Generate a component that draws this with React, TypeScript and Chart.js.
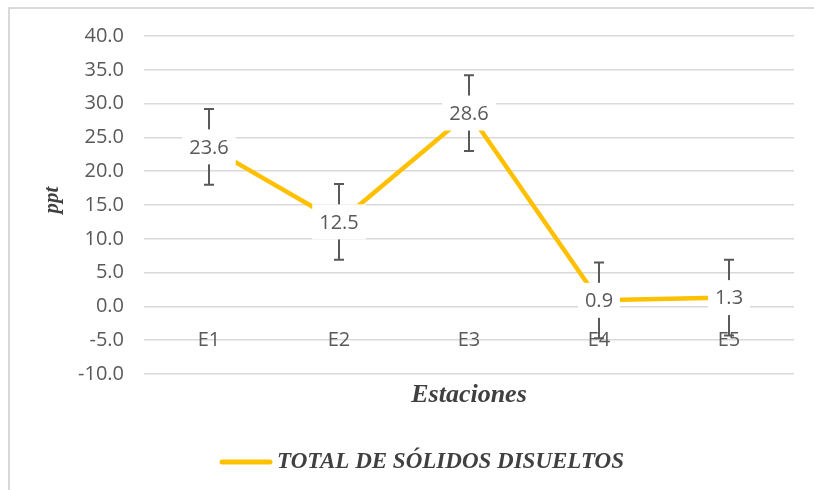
import React, { useEffect, useRef } from "react";
import { Chart, registerables } from "chart.js";

Chart.register(...registerables);

const categories = ["E1", "E2", "E3", "E4", "E5"];
const values = [23.6, 12.5, 28.6, 0.9, 1.3];
const errors = [5.6, 5.6, 5.6, 5.6, 5.6];
const seriesName = "TOTAL DE SÓLIDOS DISUELTOS";
const yTitle = "ppt";
const xTitle = "Estaciones";
const yMin = -10;
const yMax = 40;
const yStep = 5;
const categoryLabelLevel = -5;

const TEXT = "#595959";
const GRID = "#d9d9d9";
const LINE = "#FFC000";
const NUM_FONT = '20px "Open Sans"';

const decorPlugin = {
  id: "decor",
  beforeDraw(chart: any) {
    const ctx = chart.ctx;
    ctx.save();
    ctx.fillStyle = "#ffffff";
    ctx.fillRect(0, 0, chart.width, chart.height);
    ctx.strokeStyle = "#d9d9d9";
    ctx.lineWidth = 2;
    ctx.strokeRect(9, 8, chart.width + 20, chart.height + 20);
    ctx.restore();
  },
  beforeDatasetsDraw(chart: any) {
    const ctx = chart.ctx;
    const xs = chart.scales.x;
    const ys = chart.scales.y;
    ctx.save();
    // category labels
    ctx.font = NUM_FONT;
    ctx.fillStyle = TEXT;
    ctx.textAlign = "center";
    ctx.textBaseline = "middle";
    categories.forEach((c, i) => {
      ctx.fillText(c, xs.getPixelForValue(i), ys.getPixelForValue(categoryLabelLevel));
    });
    // error bars
    ctx.strokeStyle = TEXT;
    ctx.lineWidth = 2;
    values.forEach((v, i) => {
      const x = Math.round(xs.getPixelForValue(i));
      const yT = ys.getPixelForValue(v + errors[i]);
      const yB = ys.getPixelForValue(v - errors[i]);
      ctx.beginPath();
      ctx.moveTo(x, yT);
      ctx.lineTo(x, yB);
      ctx.moveTo(x - 5, yT);
      ctx.lineTo(x + 5, yT);
      ctx.moveTo(x - 5, yB);
      ctx.lineTo(x + 5, yB);
      ctx.stroke();
    });
    ctx.restore();
  },
  afterDatasetsDraw(chart: any) {
    const ctx = chart.ctx;
    const xs = chart.scales.x;
    const ys = chart.scales.y;
    ctx.save();
    ctx.font = NUM_FONT;
    ctx.textAlign = "center";
    ctx.textBaseline = "middle";
    values.forEach((v, i) => {
      const x = xs.getPixelForValue(i);
      const y = ys.getPixelForValue(v);
      const t = v.toFixed(1);
      const w = ctx.measureText(t).width + 14;
      const h = 35;
      ctx.fillStyle = "#ffffff";
      ctx.fillRect(x - w / 2, y - h / 2, w, h);
      ctx.fillStyle = TEXT;
      ctx.fillText(t, x, y + 1);
    });
    // axis titles
    ctx.fillStyle = "#404040";
    ctx.font = 'bold italic 26px "Liberation Serif"';
    ctx.fillText(xTitle, (chart.chartArea.left + chart.chartArea.right) / 2, 395);
    ctx.save();
    ctx.translate(53, 200);
    ctx.rotate(-Math.PI / 2);
    ctx.font = 'bold italic 21px "Liberation Serif"';
    ctx.fillText(yTitle, 0, 0);
    ctx.restore();
    // legend
    ctx.strokeStyle = LINE;
    ctx.lineWidth = 5;
    ctx.lineCap = "round";
    ctx.beginPath();
    ctx.moveTo(222, 462);
    ctx.lineTo(270, 462);
    ctx.stroke();
    ctx.font = 'bold italic 23px "Liberation Serif"';
    ctx.textAlign = "left";
    ctx.fillStyle = "#404040";
    ctx.fillText(seriesName, 277, 462);
    ctx.restore();
  },
};

export default function App() {
  const ref = useRef<HTMLCanvasElement>(null);
  useEffect(() => {
    const chart = new Chart(ref.current as HTMLCanvasElement, {
      type: "line",
      data: {
        labels: categories,
        datasets: [
          {
            label: seriesName,
            data: values,
            borderColor: LINE,
            backgroundColor: LINE,
            borderWidth: 4.5,
            pointRadius: 0,
            tension: 0,
          },
        ],
      },
      options: {
        animation: false,
        responsive: false,
        maintainAspectRatio: false,
        layout: { padding: { left: 0, right: 20, top: 36, bottom: 116 } },
        plugins: { legend: { display: false }, tooltip: { enabled: false } },
        scales: {
          x: {
            type: "category",
            offset: true,
            grid: { display: false },
            border: { display: false },
            ticks: { display: false },
            afterFit: (s: any) => {
              s.height = 0;
            },
          },
          y: {
            min: yMin,
            max: yMax,
            afterFit: (s: any) => {
              s.width = 144;
            },
            grid: { color: GRID, lineWidth: 1.5, drawTicks: false },
            border: { display: false },
            ticks: {
              stepSize: yStep,
              padding: 20,
              color: TEXT,
              font: { family: "Open Sans", size: 20 },
              callback: (v: any) => Number(v).toFixed(1),
            },
          },
        },
      },
      plugins: [decorPlugin],
    });
    return () => chart.destroy();
  }, []);
  return (
    <div style={{ position: "fixed", left: 0, top: 0, width: 814, height: 490 }}>
      <canvas ref={ref} width={814} height={490} />
    </div>
  );
}
